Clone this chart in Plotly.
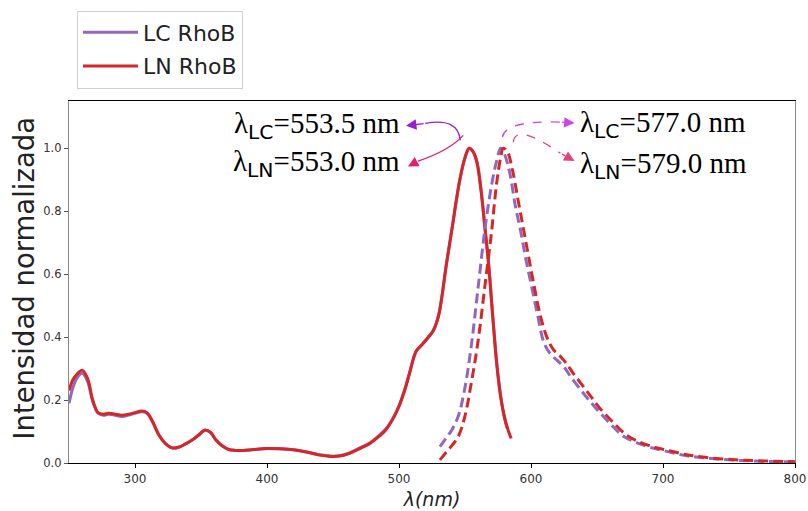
import plotly.graph_objects as go

# ---------------- data ----------------
abs_wl_lc = [250, 253, 256, 260, 264, 268, 272, 276, 280, 285, 290, 295, 300, 305, 309, 313, 318, 323, 328, 333,
             338, 343, 348, 353, 357, 361, 366, 371, 376, 382, 390, 400, 410, 420, 430, 440, 448, 455, 462, 470,
             478, 485, 490, 495, 500, 505, 508, 513, 518, 522, 526, 530, 536, 540, 546, 550, 553.5, 556, 559, 562,
             565, 568, 571, 574, 577, 580, 582]
abs_lc = [0.19, 0.24, 0.27, 0.285, 0.26, 0.195, 0.158, 0.152, 0.155, 0.152, 0.148, 0.152, 0.158, 0.163, 0.158, 0.133,
          0.09, 0.062, 0.048, 0.05, 0.06, 0.072, 0.088, 0.104, 0.098, 0.075, 0.055, 0.043, 0.04, 0.04, 0.043, 0.046,
          0.045, 0.042, 0.035, 0.026, 0.022, 0.023, 0.031, 0.047, 0.064, 0.088, 0.108, 0.139, 0.182, 0.243, 0.287,
          0.355, 0.38, 0.4, 0.422, 0.47, 0.634, 0.74, 0.898, 0.97, 1.0, 0.99, 0.958, 0.875, 0.755, 0.63, 0.47, 0.32,
          0.215, 0.14, 0.11]

abs_wl_ln = [250, 253, 256, 260, 264, 268, 272, 276, 280, 285, 290, 295, 300, 305, 309, 313, 318, 323, 328, 333,
             338, 343, 348, 353, 357, 361, 366, 371, 376, 382, 390, 400, 410, 420, 430, 440, 448, 455, 462, 470,
             478, 485, 490, 495, 500, 505, 508, 513, 518, 522, 526, 530, 536, 540, 546, 550, 553, 556, 559, 562,
             565, 568, 571, 574, 577, 580, 583, 585]
abs_ln = [0.23, 0.265, 0.282, 0.295, 0.27, 0.2, 0.16, 0.155, 0.158, 0.155, 0.152, 0.155, 0.16, 0.165, 0.16, 0.135,
          0.09, 0.062, 0.048, 0.05, 0.06, 0.072, 0.088, 0.105, 0.098, 0.075, 0.055, 0.043, 0.04, 0.04, 0.043, 0.046,
          0.045, 0.042, 0.035, 0.025, 0.021, 0.022, 0.03, 0.045, 0.062, 0.085, 0.105, 0.137, 0.18, 0.24, 0.285,
          0.355, 0.378, 0.398, 0.42, 0.468, 0.634, 0.74, 0.898, 0.97, 1.0, 0.99, 0.955, 0.87, 0.75, 0.625, 0.465,
          0.316, 0.21, 0.145, 0.1, 0.078]

em_wl_lc = [531, 535, 540, 545, 550, 555, 560, 565, 570, 574, 577, 580, 584, 588, 592, 596, 600, 605, 610, 615,
            620, 625, 630, 640, 650, 660, 670, 680, 690, 700, 715, 730, 750, 770, 800]
em_lc = [0.052, 0.075, 0.105, 0.15, 0.24, 0.38, 0.56, 0.74, 0.88, 0.96, 1.0, 0.98, 0.92, 0.82, 0.74, 0.65, 0.57,
         0.47, 0.38, 0.345, 0.325, 0.305, 0.275, 0.22, 0.17, 0.125, 0.085, 0.065, 0.05, 0.04, 0.025, 0.017, 0.01,
         0.006, 0.003]

em_wl_ln = [531, 535, 540, 545, 550, 555, 560, 565, 570, 574, 577, 579, 582, 586, 590, 594, 598, 602, 607, 612,
            617, 622, 627, 632, 642, 652, 662, 672, 682, 692, 702, 717, 732, 752, 772, 800]
em_ln = [0.01, 0.03, 0.055, 0.085, 0.15, 0.26, 0.39, 0.56, 0.73, 0.89, 0.97, 1.0, 0.99, 0.93, 0.84, 0.75, 0.66,
         0.57, 0.47, 0.4, 0.36, 0.34, 0.315, 0.285, 0.23, 0.175, 0.13, 0.09, 0.067, 0.052, 0.042, 0.027, 0.018,
         0.011, 0.007, 0.004]

x_ticks = [300, 400, 500, 600, 700, 800]
y_ticks = [0, 0.2, 0.4, 0.6, 0.8, 1.0]

PURPLE = "#9467bd"
RED = "#d62728"

fig = go.Figure()
fig.add_trace(go.Scatter(x=abs_wl_lc, y=abs_lc, mode="lines", name="LC RhoB", legendgroup="a",
                         line=dict(color=PURPLE, width=3, shape="spline")))
fig.add_trace(go.Scatter(x=abs_wl_ln, y=abs_ln, mode="lines", name="LN RhoB", legendgroup="b",
                         line=dict(color=RED, width=3, shape="spline")))
fig.add_trace(go.Scatter(x=em_wl_lc, y=em_lc, mode="lines", showlegend=False,
                         line=dict(color=PURPLE, width=3, dash="10px,5px", shape="spline")))
fig.add_trace(go.Scatter(x=em_wl_ln, y=em_ln, mode="lines", showlegend=False,
                         line=dict(color=RED, width=3, dash="10px,5px", shape="spline")))

SERIF = "Liberation Serif"
SUB = "<sub><span style='font-family:DejaVu Sans'>%s</span></sub>"
labels = [
    ("λ" + SUB % "LC" + "=553.5 nm", 502.5, 1.073, "right"),
    ("λ" + SUB % "LN" + "=553.0 nm", 502.5, 0.952, "right"),
    ("λ" + SUB % "LC" + "=577.0 nm", 635.5, 1.076, "left"),
    ("λ" + SUB % "LN" + "=579.0 nm", 635.5, 0.946, "left"),
]
for txt, x, y, anc in labels:
    fig.add_annotation(x=x, y=y, text=txt, showarrow=False, xanchor=anc, yanchor="middle",
                       font=dict(family=SERIF, size=29, color="black"))

# curved arrows: path + arrowhead
arrows = [
    ("M 546.4 1.025 Q 544.9 1.098 519.8 1.079", "#9b1fd0", "solid", (519.8, 1.079), (505.3, 1.071)),
    ("M 548.6 1.041 Q 538.7 0.994 514.4 0.959", "#e0206e", "solid", (514.4, 0.959), (506.8, 0.942)),
    ("M 578.3 1.035 Q 580.5 1.089 622.3 1.083", "#cc44ee", "dash", (622.3, 1.083), (633.0, 1.080)),
    ("M 586.6 1.019 Q 588.1 1.083 622.3 0.984", "#e8407a", "dash", (622.3, 0.984), (633.0, 0.959)),
]
for path, col, dash, tail, tip in arrows:
    fig.add_shape(type="path", path=path, xref="x", yref="y",
                  line=dict(color=col, width=1.3, dash=dash))
    fig.add_annotation(x=tip[0], y=tip[1], ax=tail[0], ay=tail[1], xref="x", yref="y",
                       axref="x", ayref="y", text="", showarrow=True, arrowhead=2,
                       arrowsize=1.6, arrowwidth=1.3, arrowcolor=col)

# y-axis title
fig.add_annotation(x=-0.062, y=0.512, xref="paper", yref="paper", text="Intensidad normalizada",
                   textangle=-90, showarrow=False, xanchor="center", yanchor="middle",
                   font=dict(family="DejaVu Sans", size=27.5, color="#222"))

fig.update_layout(
    width=808, height=511,
    margin=dict(l=69, r=13, t=101, b=48, autoexpand=False),
    paper_bgcolor="white", plot_bgcolor="white",
    font=dict(family="DejaVu Sans", color="#333"),
    legend=dict(x=0.011, y=1.25, xanchor="left", yanchor="top",
                bordercolor="#d0d0d0", borderwidth=1, tracegroupgap=2, itemwidth=55,
                font=dict(size=22, color="#222"), bgcolor="white"),
    xaxis=dict(range=[250, 800], tickvals=x_ticks, automargin=False,
               showgrid=False, zeroline=False, showline=True, linecolor="black", linewidth=1.2,
               mirror=True, ticks="outside", ticklen=4, tickcolor="black",
               tickfont=dict(size=12, color="#333"),
               title=dict(text="<i>λ(nm)</i>", font=dict(size=19, color="#222"), standoff=8)),
    yaxis=dict(range=[0, 1.15], tickvals=y_ticks, tickformat=".1f", automargin=False,
               showgrid=False, zeroline=False, showline=True, linecolor="#888", linewidth=1.2,
               mirror=True, ticks="outside", ticklen=4, tickcolor="#555",
               tickfont=dict(size=11.5, color="#333")),
)

fig.write_html("out.html")
